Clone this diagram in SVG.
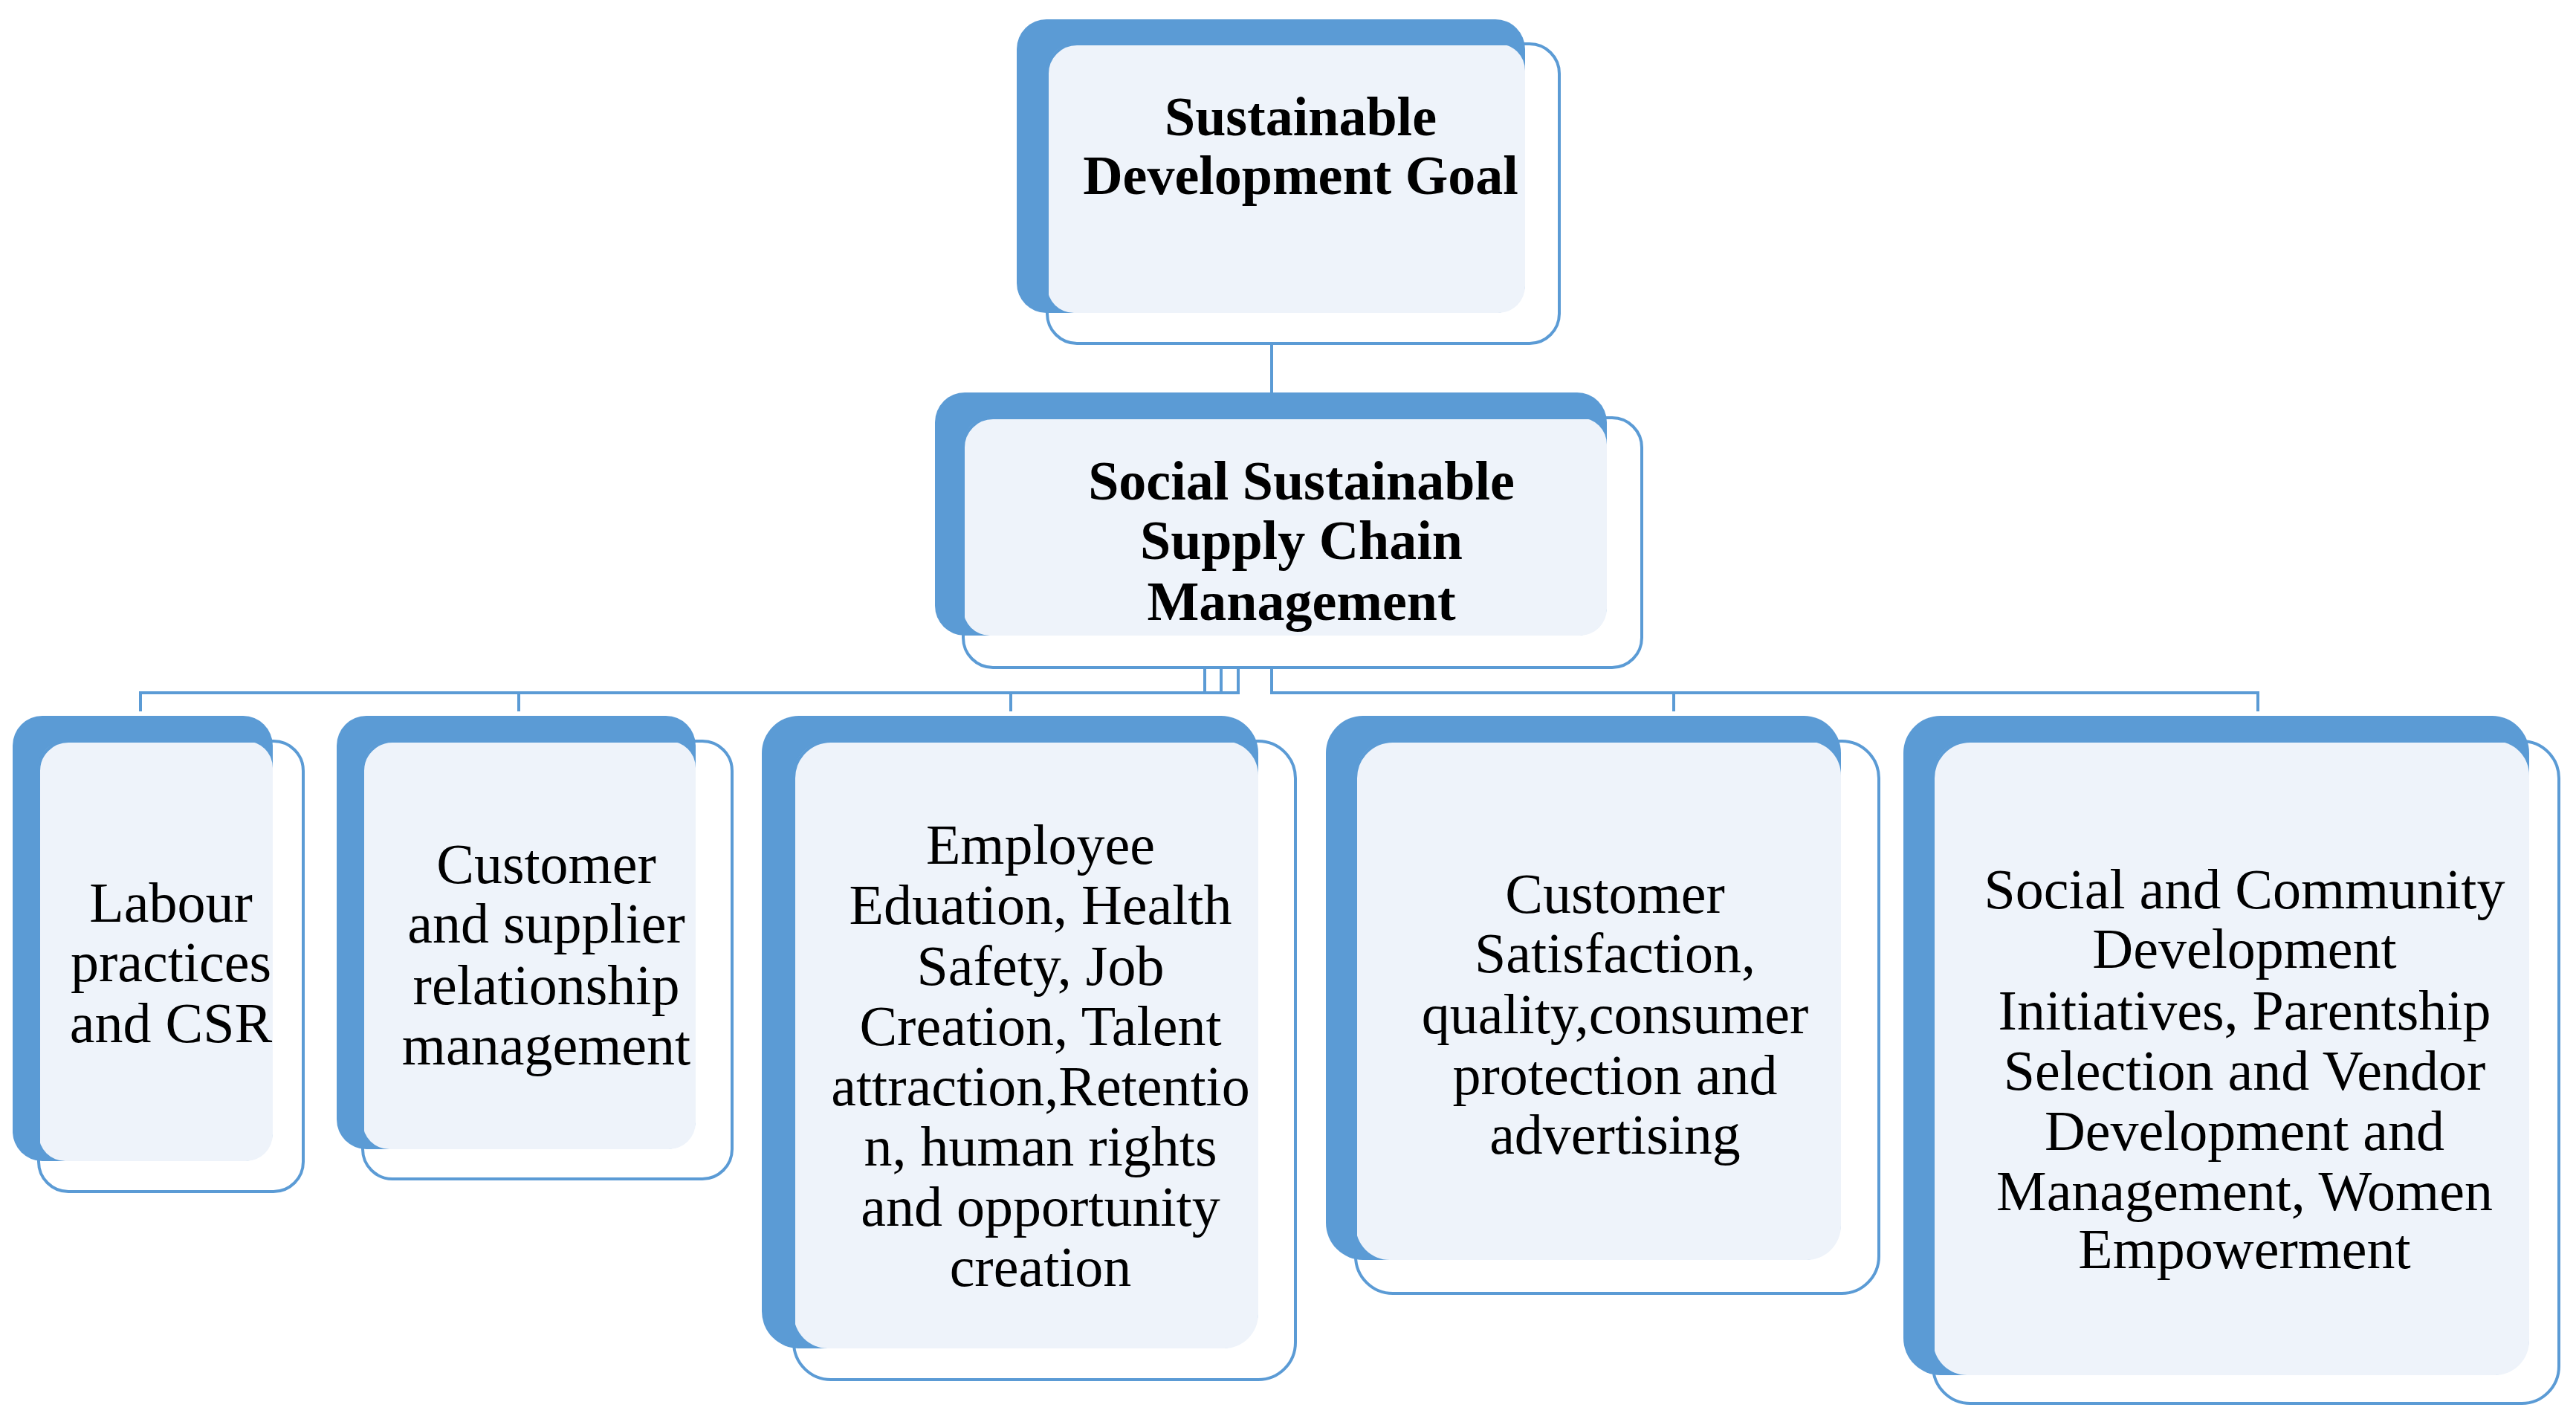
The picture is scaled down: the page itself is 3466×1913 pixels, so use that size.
<svg xmlns="http://www.w3.org/2000/svg" width="3466" height="1913" viewBox="0 0 3466 1913">
<style>
.back{fill:#5B9BD5}
.light{fill:#EEF3FA}
.front{fill:none;stroke:#5B9BD5;stroke-width:4}
.conn{fill:none;stroke:#5B9BD5;stroke-width:4}
text{font-family:"Liberation Serif","Times New Roman",serif;font-size:76px;fill:#000;text-anchor:middle}
.b{font-weight:bold;font-size:74px}
</style>
<rect width="3466" height="1913" fill="#fff"/>
<g id="connectors">
<path class="conn" d="M1711 462V528"/>
<path class="conn" d="M1621 898V932H189V957"/>
<path class="conn" d="M1643 898V932H698V957"/>
<path class="conn" d="M1666 898V932H1360V957"/>
<path class="conn" d="M1711 898V932H2252V957"/>
<path class="conn" d="M1711 932H3038V957"/>
</g>
<g id="sdg">
<rect class="back" x="1368" y="26" width="684" height="395" rx="40"/>
<rect class="light" x="1409" y="59" width="643" height="362" rx="36"/>
<rect class="front" x="1409" y="59" width="689" height="403" rx="40"/>
<text class="b" x="1750" y="182">Sustainable</text>
<text class="b" x="1750" y="261">Development Goal</text>
</g>
<g id="sscm">
<rect class="back" x="1258" y="528" width="904" height="327" rx="40"/>
<rect class="light" x="1296" y="562" width="866" height="293" rx="36"/>
<rect class="front" x="1296" y="562" width="913" height="336" rx="40"/>
<text class="b" x="1751" y="672">Social Sustainable</text>
<text class="b" x="1751" y="752">Supply Chain</text>
<text class="b" x="1751" y="834">Management</text>
</g>
<g id="labour">
<rect class="back" x="17" y="963" width="350" height="599" rx="40"/>
<rect class="light" x="52" y="997" width="315" height="565" rx="36"/>
<rect class="front" x="52" y="997" width="356" height="606" rx="40"/>
<text x="230" y="1240">Labour</text>
<text x="230" y="1320">practices</text>
<text x="230" y="1402">and CSR</text>
</g>
<g id="customer-supplier">
<rect class="back" x="453" y="963" width="483" height="583" rx="40"/>
<rect class="light" x="488" y="997" width="448" height="549" rx="36"/>
<rect class="front" x="488" y="997" width="497" height="589" rx="40"/>
<text x="735" y="1188">Customer</text>
<text x="735" y="1268">and supplier</text>
<text x="735" y="1351">relationship</text>
<text x="735" y="1432">management</text>
</g>
<g id="employee">
<rect class="back" x="1025" y="963" width="668" height="851" rx="50"/>
<rect class="light" x="1068" y="997" width="625" height="817" rx="46"/>
<rect class="front" x="1068" y="997" width="675" height="859" rx="50"/>
<text x="1400" y="1162">Employee</text>
<text x="1400" y="1243">Eduation, Health</text>
<text x="1400" y="1325">Safety, Job</text>
<text x="1400" y="1406">Creation, Talent</text>
<text x="1400" y="1487">attraction,Retentio</text>
<text x="1400" y="1568">n, human rights</text>
<text x="1400" y="1649">and opportunity</text>
<text x="1400" y="1730">creation</text>
</g>
<g id="customer-satisfaction">
<rect class="back" x="1784" y="963" width="693" height="732" rx="50"/>
<rect class="light" x="1824" y="997" width="653" height="698" rx="46"/>
<rect class="front" x="1824" y="997" width="704" height="743" rx="50"/>
<text x="2173" y="1228">Customer</text>
<text x="2173" y="1308">Satisfaction,</text>
<text x="2173" y="1390">quality,consumer</text>
<text x="2173" y="1472">protection and</text>
<text x="2173" y="1552">advertising</text>
</g>
<g id="community">
<rect class="back" x="2561" y="963" width="842" height="887" rx="50"/>
<rect class="light" x="2601" y="997" width="802" height="853" rx="46"/>
<rect class="front" x="2601" y="997" width="842" height="891" rx="50"/>
<text x="3020" y="1222">Social and Community</text>
<text x="3020" y="1302">Development</text>
<text x="3020" y="1385">Initiatives, Parentship</text>
<text x="3020" y="1466">Selection and Vendor</text>
<text x="3020" y="1547">Development and</text>
<text x="3020" y="1628">Management, Women</text>
<text x="3020" y="1706">Empowerment</text>
</g>
</svg>
